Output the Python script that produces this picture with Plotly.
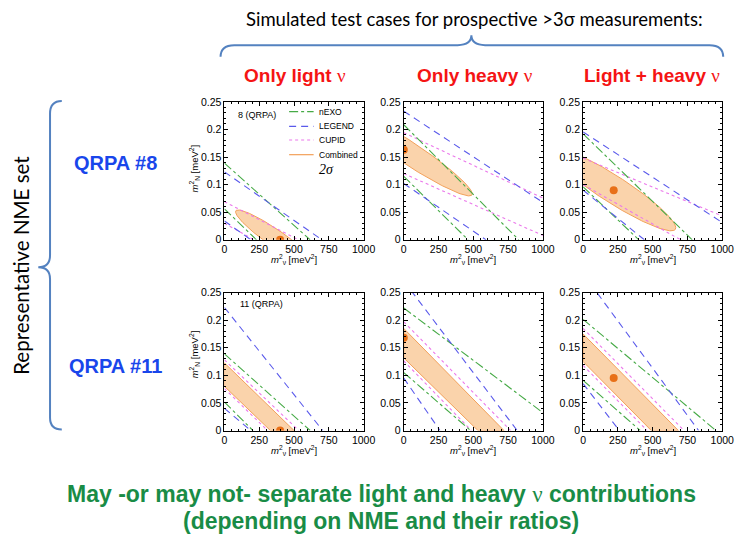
import numpy as np
import plotly.graph_objects as go

W, H = 746, 549

# ---------------- data ----------------
# panel order: QRPA#8 (light, heavy, light+heavy), QRPA#11 (light, heavy, light+heavy)
# each experimental band edge is a straight line: y0 = m_N^2 at m_nu^2=0, x0 = m_nu^2 at m_N^2=0
nexo_upper_y0 = [0.139, 0.2085, 0.192, 0.139, 0.222, 0.2015]
nexo_upper_x0 = [615, 826, 784, 616, 1170, 955]
nexo_lower_y0 = [0.056, 0.115, 0.096, 0.0515, 0.105, 0.091]
nexo_lower_x0 = [230, 462, 400, 205, 480, 410]
legend_upper_y0 = [0.123, 0.233, 0.1955, 0.223, 0.271, 0.284]
legend_upper_x0 = [700, 1410, 1190, 706, 815, 830]
legend_lower_y0 = [0.034, 0.102, 0.090, 0.040, 0.095, 0.085]
legend_lower_x0 = [190, 590, 440, 190, 260, 260]
cupid_upper_y0 = [0.069, 0.194, 0.148, 0.128, 0.197, 0.185]
cupid_upper_x0 = [530, 1640, 1410, 534, 768, 725]
cupid_lower_y0 = [0.030, 0.120, 0.100, 0.076, 0.126, 0.118]
cupid_lower_x0 = [210, 1070, 700, 310, 486, 460]

# simulated true values
true_mnu2 = [400, 0, 220, 400, 0, 220]
true_mN2 = [0.0, 0.163, 0.090, 0.0, 0.168, 0.095]

# combined 2-sigma ellipses (QRPA #8 row): centre, semi-axes (fraction of axis span), tilt (deg)
ell_cx = [380, 20, 210]
ell_cy = [0.0, 0.160, 0.0925]
ell_a = [0.365, 0.566, 0.54]
ell_b = [0.062, 0.081, 0.097]
ell_tilt = [-35.2, -33.8, -33.0]

# combined 2-sigma bands (QRPA #11 row): edges as (y-intercept, x-intercept)
band_upper_y0 = [0.1225, 0.185, 0.175]
band_upper_x0 = [500, 720, 685]
band_lower_y0 = [0.080, 0.1315, 0.125]
band_lower_x0 = [330, 533, 490]

x_ticks = [0, 250, 500, 750, 1000]
y_ticks = [0, 0.05, 0.1, 0.15, 0.2, 0.25]
X_MAX, Y_MAX = 1000, 0.25

col_titles = ["Only light", "Only heavy", "Light + heavy"]
row_titles = ["QRPA #8", "QRPA #11"]
panel_tags = ["8 (QRPA)", "11 (QRPA)"]

# ---------------- styles ----------------
C_NEXO = "rgb(70,170,70)"
C_LEG = "rgb(90,90,235)"
C_CUP = "rgb(235,120,235)"
C_EDGE = "rgb(242,160,90)"
C_FILL = "rgba(249,203,156,0.85)"
C_PT = "rgb(232,112,24)"
SANS = "Liberation Sans"

panel_x0 = [226, 409, 592]
panel_y0 = [98, 293]
PW, PH = 142, 141

fig = go.Figure()


def px(x):
    return x / W


def py(y):
    return 1 - y / H


for k in range(6):
    r, c = divmod(k, 3)
    n = k + 1
    xa = "x" if n == 1 else f"x{n}"
    ya = "y" if n == 1 else f"y{n}"
    # combined region
    if r == 0:
        t = np.linspace(0, 2 * np.pi, 240)
        th = np.radians(ell_tilt[c])
        uc, vc = ell_cx[c] / X_MAX, ell_cy[c] / Y_MAX
        u = uc + ell_a[c] * np.cos(t) * np.cos(th) - ell_b[c] * np.sin(t) * np.sin(th)
        v = vc + ell_a[c] * np.cos(t) * np.sin(th) + ell_b[c] * np.sin(t) * np.cos(th)
        ex, ey = u * X_MAX, v * Y_MAX
    else:
        ex = [0, band_upper_x0[c], band_lower_x0[c], 0, 0]
        ey = [band_upper_y0[c], 0, 0, band_lower_y0[c], band_upper_y0[c]]
    fig.add_trace(go.Scatter(x=ex, y=ey, mode="lines", fill="toself", fillcolor=C_FILL,
                             line=dict(color=C_EDGE, width=1), xaxis=xa, yaxis=ya,
                             showlegend=False, hoverinfo="skip"))
    for (uy, ux, ly, lx, col, dash) in [
        (cupid_upper_y0, cupid_upper_x0, cupid_lower_y0, cupid_lower_x0, C_CUP, "dot"),
        (nexo_upper_y0, nexo_upper_x0, nexo_lower_y0, nexo_lower_x0, C_NEXO, "dashdot"),
        (legend_upper_y0, legend_upper_x0, legend_lower_y0, legend_lower_x0, C_LEG, "7px,5px"),
    ]:
        for yy, xx in [(uy[k], ux[k]), (ly[k], lx[k])]:
            fig.add_trace(go.Scatter(x=[0, xx], y=[yy, 0], mode="lines",
                                     line=dict(color=col, width=1.1, dash=dash),
                                     xaxis=xa, yaxis=ya, showlegend=False, hoverinfo="skip"))
    fig.add_trace(go.Scatter(x=[true_mnu2[k]], y=[true_mN2[k]], mode="markers",
                             marker=dict(color=C_PT, size=8), xaxis=xa, yaxis=ya,
                             showlegend=False, hoverinfo="skip"))

    x0 = panel_x0[c]
    y0 = panel_y0[r]
    common = dict(showgrid=False, zeroline=False, showline=True, linecolor="black",
                  linewidth=1, mirror="allticks", ticks="inside", ticklen=4,
                  tickcolor="black", tickfont=dict(family=SANS, size=10.5, color="black"))
    fig.layout[f"xaxis{'' if n == 1 else n}"] = dict(
        domain=[px(x0), px(x0 + PW)], range=[0, X_MAX], anchor=ya,
        tickvals=x_ticks, minor=dict(dtick=50, ticks="inside", ticklen=2, tickcolor="black"),
        **common)
    fig.layout[f"yaxis{'' if n == 1 else n}"] = dict(
        domain=[py(y0 + PH), py(y0)], range=[0, Y_MAX], anchor=xa,
        tickvals=y_ticks, minor=dict(dtick=0.01, ticks="inside", ticklen=2, tickcolor="black"),
        **common)

annotations = []
shapes = []


def ann(x, y, text, size, family=SANS, color="black", xanchor="center", angle=0):
    annotations.append(dict(x=px(x), y=py(y), xref="paper", yref="paper", showarrow=False,
                            xanchor=xanchor, yanchor="middle", textangle=angle, text=text,
                            font=dict(family=family, size=size, color=color)))


# axis titles
for r in range(2):
    for c in range(3):
        ann(panel_x0[c] + PW / 2, panel_y0[r] + PH + 20,
            "<i>m</i><sup>2</sup><sub>ν</sub> [meV<sup>2</sup>]", 9.5)
for yc in [166, 356]:
    ann(195, yc, "<i>m</i><sup>2</sup><sub>N</sub> [meV<sup>2</sup>]", 9.5, angle=-90)

# panel tags
ann(238, 111, panel_tags[0], 9, xanchor="left")
ann(240, 305, panel_tags[1], 9, xanchor="left")

# legend inside the first panel
leg_items = [("nEXO", C_NEXO, "dashdot", 108), ("LEGEND", C_LEG, "7px,5px", 123),
             ("CUPID", C_CUP, "dot", 137), ("Combined", C_EDGE, "solid", 152)]
for name, col, dash, yy in leg_items:
    shapes.append(dict(type="line", xref="paper", yref="paper", x0=px(292), x1=px(317),
                       y0=py(yy), y1=py(yy), line=dict(color=col, width=1.2, dash=dash)))
    ann(320, yy, name, 8.5, xanchor="left")
ann(320, 167, "<i>2σ</i>", 14, family="Liberation Serif", xanchor="left")

# headline texts
ann(481, 13, "Simulated test cases for prospective >3σ measurements:", 18.5, family="Lato")
nu = '<span style="font-family:Liberation Serif;font-weight:normal">ν</span>'
for c, xc in enumerate([298, 482, 662]):
    ann(xc, 71, f"<b>{col_titles[c]} </b>{nu}", 19, color="rgb(245,20,20)")
for r, yc in enumerate([160, 368]):
    ann(115, yc, f"<b>{row_titles[r]}</b>", 20, color="rgb(25,70,235)")
ann(19, 265, "Representative NME set", 20.5, family="Lato", angle=-90)
ann(386, 499, "<b>May -or may not- separate light and heavy </b>" + nu + "<b> contributions</b>",
    23, color="rgb(25,140,70)")
ann(386, 527, "<b>(depending on NME and their ratios)</b>", 23, color="rgb(25,140,70)")


def path(pts):
    s = ""
    for cmd, coords in pts:
        s += cmd + " " + " ".join(f"{px(a):.5f},{py(b):.5f}" for a, b in coords) + " "
    return s.strip()


BR = "rgb(84,130,192)"
top_brace = path([("M", [(222, 52)]), ("Q", [(222, 40), (236, 40)]), ("L", [(464, 40)]),
                  ("Q", [(478, 40), (478, 30)]), ("Q", [(478, 40), (492, 40)]),
                  ("L", [(721, 40)]), ("Q", [(735, 40), (735, 52)])])
left_brace = path([("M", [(60, 97)]), ("Q", [(48, 97), (48, 110)]), ("L", [(48, 255)]),
                   ("Q", [(48, 267), (36, 267)]), ("Q", [(48, 267), (48, 279)]),
                   ("L", [(48, 421)]), ("Q", [(48, 433), (60, 433)])])
for p in [top_brace, left_brace]:
    shapes.append(dict(type="path", xref="paper", yref="paper", path=p,
                       line=dict(color=BR, width=2)))

fig.update_layout(width=W, height=H, margin=dict(l=0, r=0, t=0, b=0),
                  paper_bgcolor="white", plot_bgcolor="white", showlegend=False,
                  annotations=annotations, shapes=shapes)
fig.write_html("out.html")
